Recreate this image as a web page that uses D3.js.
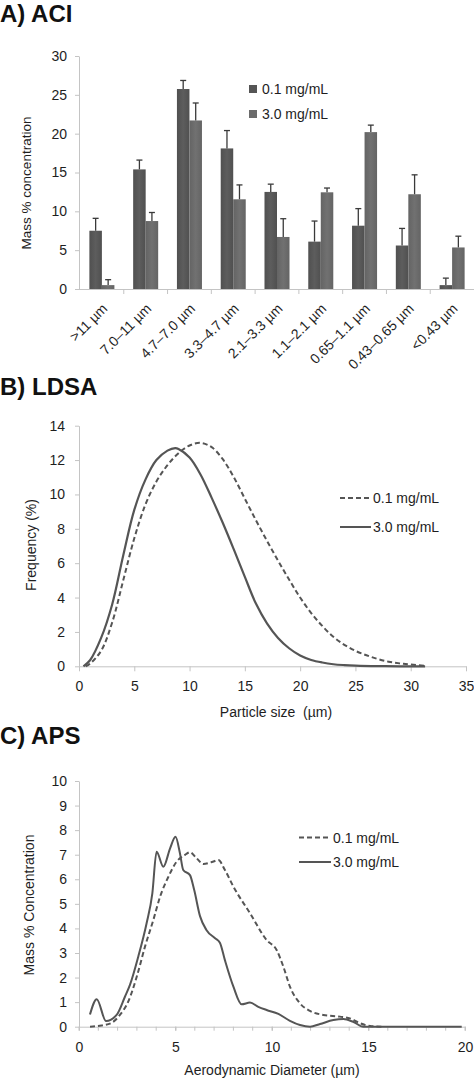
<!DOCTYPE html>
<html><head><meta charset="utf-8">
<script src="https://cdn.jsdelivr.net/npm/d3@7"></script>
<style>
body{margin:0;background:#fff;overflow:hidden;}
svg{display:block;font-family:"Liberation Sans",Arial,sans-serif;}
</style></head><body>
<svg id="c" width="474" height="1078"></svg>
<script>
// ---------- Panel A data ----------
const aciCategories = [">11 µm","7.0–11 µm","4.7–7.0 µm","3.3–4.7 µm","2.1–3.3 µm","1.1–2.1 µm","0.65–1.1 µm","0.43–0.65 µm","<0.43 µm"];
const seriesNames = ["0.1 mg/mL","3.0 mg/mL"];
const aciLow = [7.5,15.4,25.75,18.1,12.5,6.1,8.15,5.6,0.5];
const aciLowErr = [1.6,1.2,1.1,2.3,1.0,2.65,2.2,2.2,0.9];
const aciHigh = [0.5,8.75,21.7,11.55,6.7,12.45,20.2,12.2,5.35];
const aciHighErr = [0.7,1.1,2.25,1.85,2.35,0.55,0.9,2.5,1.45];
const aciYTicks = [0,5,10,15,20,25,30];

// ---------- Panel B data ----------
const ldsaLowX = [0.6,1,2,3,4,5,6,7,8,9,10,11,12,13,14,15,16,17,18,19,20,21,22,23,24,25,26,27,28,29,30,31.3];
const ldsaLowY = [0,0.15,0.9,2.55,5.0,7.45,9.4,10.75,11.7,12.4,12.85,13.0,12.75,12.05,11.0,9.75,8.5,7.3,6.15,5.05,4.0,3.1,2.35,1.72,1.25,0.9,0.64,0.43,0.27,0.17,0.1,0.03];
const ldsaHighX = [0.4,1,2,3,4,5,6,7,8,8.7,9,10,11,12,13,14,15,16,17,18,19,20,21,22,23,24,25,27,29,31.3];
const ldsaHighY = [0,0.35,1.65,3.6,6.45,9.1,10.85,12.0,12.55,12.7,12.65,12.15,11.15,9.8,8.35,6.8,5.2,3.65,2.5,1.65,1.05,0.63,0.37,0.22,0.12,0.07,0.04,0.01,0,0];
const ldsaXTicks = [0,5,10,15,20,25,30,35];
const ldsaYTicks = [0,2,4,6,8,10,12,14];

// ---------- Panel C data ----------
const apsLowX = [0.57,1.17,1.7,2.12,2.55,2.99,3.42,3.85,4.2,4.63,5.06,5.49,5.75,6.1,6.44,6.88,7.22,7.56,8.0,8.86,9.72,10.24,10.59,10.93,11.45,11.97,12.66,13.52,14.04,14.56,15.08,15.8];
const apsLowY = [0,0.05,0.16,0.48,1.02,2.03,3.26,4.34,5.29,6.1,6.72,6.99,7.1,6.85,6.62,6.7,6.78,6.38,5.7,4.62,3.53,3.12,2.44,1.63,0.95,0.64,0.48,0.41,0.34,0.14,0.03,0];
const apsHighX = [0.57,0.92,1.4,1.95,2.38,2.64,3.07,3.5,3.8,4.02,4.37,4.72,5.0,5.23,5.4,5.75,5.97,6.27,6.6,7.05,7.3,7.56,8.0,8.43,8.86,9.29,9.72,10.33,10.93,11.45,11.97,12.49,13.18,13.7,14.2,14.73,15.5,17,19.83];
const apsHighY = [0.5,1.12,0.23,0.48,1.22,1.7,2.85,4.2,5.43,7.12,6.51,7.26,7.73,7.06,6.38,6.17,5.56,4.5,3.94,3.6,3.42,2.71,1.63,0.91,0.98,0.81,0.68,0.52,0.24,0.07,0,0.11,0.27,0.31,0.2,0,0,0,0];
const apsXTicks = [0,5,10,15,20];
const apsXMinor = d3.range(0,21,1);
const apsYTicks = [0,1,2,3,4,5,6,7,8,9,10];

const svg = d3.select("#c");
const AX = "#c4c4c4", TXT = "#1e1e1e", LINE = "#555";
const FONT = 13.5;

function title(t, x, y){
  svg.append("text").attr("x",x).attr("y",y).attr("font-size",24).attr("font-weight","bold")
    .attr("fill","#111").text(t);
}
function styleAxis(g){
  g.selectAll("path.domain").attr("stroke",AX).attr("stroke-width",1);
  g.selectAll(".tick line").attr("stroke",AX).attr("stroke-width",1);
  g.selectAll(".tick text").attr("fill",TXT).attr("font-size",FONT).attr("font-family","Liberation Sans, Arial, sans-serif");
}

// ================= Panel A =================
title("A) ACI", 0, 22);
const xA = d3.scaleBand().domain(aciCategories).range([80,474]).padding(0);
const xA1 = d3.scaleBand().domain(seriesNames).range([0,xA.bandwidth()]).paddingInner(0).paddingOuter(0.75);
const yA = d3.scaleLinear().domain([0,30]).range([289,56]);

const defs = svg.append("defs");
function grad(id, c1, c2){
  const g = defs.append("linearGradient").attr("id",id).attr("x1","0").attr("x2","1").attr("y1","0").attr("y2","0");
  g.append("stop").attr("offset","0").attr("stop-color",c1);
  g.append("stop").attr("offset","0.5").attr("stop-color",c2);
  g.append("stop").attr("offset","1").attr("stop-color",c1);
}
grad("gLow","#505050","#5d5d5d");
grad("gHigh","#646464","#717171");

const gyA = svg.append("g").attr("transform","translate(79,0)")
  .call(d3.axisLeft(yA).tickValues(aciYTicks).tickSize(4).tickSizeOuter(0).tickPadding(8));
styleAxis(gyA);
gyA.selectAll(".tick text").attr("font-size",14);
svg.append("line").attr("x1",79).attr("x2",474).attr("y1",yA(0)+0.5).attr("y2",yA(0)+0.5).attr("stroke",AX);
svg.append("g").selectAll("line").data(aciCategories.slice(1)).join("line")
  .attr("x1",d=>xA(d)).attr("x2",d=>xA(d)).attr("y1",yA(0)).attr("y2",yA(0)+5).attr("stroke",AX);

const series = [
  {name:seriesNames[0], vals:aciLow, errs:aciLowErr, fill:"url(#gLow)", legend:"#555"},
  {name:seriesNames[1], vals:aciHigh, errs:aciHighErr, fill:"url(#gHigh)", legend:"#6b6b6b"}
];
series.forEach(s=>{
  const g = svg.append("g");
  g.selectAll("rect").data(aciCategories).join("rect")
    .attr("x",(d)=>xA(d)+xA1(s.name)).attr("width",xA1.bandwidth())
    .attr("y",(d,i)=>yA(s.vals[i])).attr("height",(d,i)=>yA(0)-yA(s.vals[i]))
    .attr("fill",s.fill);
  const cx = d=>xA(d)+xA1(s.name)+xA1.bandwidth()/2;
  g.selectAll("line.e").data(aciCategories).join("line").attr("class","e")
    .attr("x1",cx).attr("x2",cx).attr("y1",(d,i)=>yA(s.vals[i])).attr("y2",(d,i)=>yA(s.vals[i]+s.errs[i]))
    .attr("stroke","#3a3a3a").attr("stroke-width",1.3);
  g.selectAll("line.c").data(aciCategories).join("line").attr("class","c")
    .attr("x1",d=>cx(d)-3).attr("x2",d=>cx(d)+3).attr("y1",(d,i)=>yA(s.vals[i]+s.errs[i])).attr("y2",(d,i)=>yA(s.vals[i]+s.errs[i]))
    .attr("stroke","#3a3a3a").attr("stroke-width",1.3);
});
svg.append("g").selectAll("text").data(aciCategories).join("text")
  .attr("transform",d=>`translate(${xA(d)+xA.bandwidth()/2+3},${yA(0)+17}) rotate(-45)`)
  .attr("text-anchor","end").attr("dy","0.35em").attr("font-size",14).attr("fill",TXT).text(d=>d);
svg.append("text").attr("transform","translate(31,183) rotate(-90)").attr("text-anchor","middle")
  .attr("font-size",13.5).attr("fill",TXT).text("Mass % concentration");
series.forEach((s,i)=>{
  const yy = 89 + i*25;
  svg.append("rect").attr("x",249).attr("y",yy-4).attr("width",8).attr("height",8).attr("fill",s.legend);
  svg.append("text").attr("x",262).attr("y",yy+5).attr("font-size",14).attr("fill",TXT).text(s.name);
});

// ================= Panel B =================
title("B) LDSA", 0, 395);
const xB = d3.scaleLinear().domain([0,35]).range([79,466]);
const yB = d3.scaleLinear().domain([0,14]).range([666.3,425.7]);
const gxB = svg.append("g").attr("transform",`translate(0,${yB(0)})`)
  .call(d3.axisBottom(xB).tickValues(ldsaXTicks).tickSize(5).tickSizeOuter(0).tickPadding(10));
styleAxis(gxB);
gxB.selectAll(".tick text").attr("font-size",14);
const gyB = svg.append("g").attr("transform",`translate(${xB(0)},0)`)
  .call(d3.axisLeft(yB).tickValues(ldsaYTicks).tickSize(4).tickSizeOuter(0).tickPadding(10));
styleAxis(gyB);
gyB.selectAll(".tick text").attr("font-size",14);
const lineB = d3.line().curve(d3.curveCatmullRom.alpha(0.5));
svg.append("path").attr("d",lineB(ldsaLowX.map((x,i)=>[xB(x),yB(ldsaLowY[i])])))
  .attr("fill","none").attr("stroke",LINE).attr("stroke-width",2).attr("stroke-dasharray","5,3");
svg.append("path").attr("d",lineB(ldsaHighX.map((x,i)=>[xB(x),yB(ldsaHighY[i])])))
  .attr("fill","none").attr("stroke",LINE).attr("stroke-width",2.2);
svg.append("text").attr("transform","translate(36,545) rotate(-90)").attr("text-anchor","middle")
  .attr("font-size",14).attr("fill",TXT).text("Frequency (%)");
svg.append("text").attr("x",276).attr("y",717).attr("text-anchor","middle")
  .attr("font-size",14).attr("fill",TXT).text("Particle size  (µm)").attr("xml:space","preserve");
[[498,"5,3",seriesNames[0]],[527,null,seriesNames[1]]].forEach(([yy,dash,name])=>{
  const l = svg.append("line").attr("x1",340).attr("x2",371).attr("y1",yy).attr("y2",yy)
    .attr("stroke",LINE).attr("stroke-width",2);
  if(dash) l.attr("stroke-dasharray",dash);
  svg.append("text").attr("x",373).attr("y",yy+5).attr("font-size",14).attr("fill",TXT).text(name);
});

// ================= Panel C =================
title("C) APS", 0, 744);
const xC = d3.scaleLinear().domain([0,20]).range([79,465]);
const yC = d3.scaleLinear().domain([0,10]).range([1026.7,781]);
const gxC = svg.append("g").attr("transform",`translate(0,${yC(0)})`)
  .call(d3.axisBottom(xC).tickValues(apsXTicks).tickSize(4).tickSizeOuter(0).tickPadding(11));
styleAxis(gxC);
gxC.selectAll(".tick text").attr("font-size",14);
svg.append("g").selectAll("line").data(apsXMinor).join("line")
  .attr("x1",d=>xC(d)).attr("x2",d=>xC(d)).attr("y1",yC(0)).attr("y2",yC(0)+4).attr("stroke",AX);
const gyC = svg.append("g").attr("transform",`translate(${xC(0)},0)`)
  .call(d3.axisLeft(yC).tickValues(apsYTicks).tickSize(4).tickSizeOuter(0).tickPadding(8));
styleAxis(gyC);
gyC.selectAll(".tick text").attr("font-size",14);
const lineC = d3.line().curve(d3.curveMonotoneX);
svg.append("path").attr("d",lineC(apsLowX.map((x,i)=>[xC(x),yC(apsLowY[i])])))
  .attr("fill","none").attr("stroke",LINE).attr("stroke-width",2).attr("stroke-dasharray","5,3");
svg.append("path").attr("d",lineC(apsHighX.map((x,i)=>[xC(x),yC(apsHighY[i])])))
  .attr("fill","none").attr("stroke",LINE).attr("stroke-width",2);
svg.append("text").attr("transform","translate(34,905) rotate(-90)").attr("text-anchor","middle")
  .attr("font-size",14).attr("fill",TXT).text("Mass % Concentration");
svg.append("text").attr("x",272).attr("y",1075).attr("text-anchor","middle")
  .attr("font-size",14).attr("fill",TXT).text("Aerodynamic Diameter (µm)");
[[837.5,"5,3",seriesNames[0]],[862,null,seriesNames[1]]].forEach(([yy,dash,name])=>{
  const l = svg.append("line").attr("x1",299).attr("x2",331).attr("y1",yy).attr("y2",yy)
    .attr("stroke",LINE).attr("stroke-width",2);
  if(dash) l.attr("stroke-dasharray",dash);
  svg.append("text").attr("x",333).attr("y",yy+5).attr("font-size",14).attr("fill",TXT).text(name);
});
</script></body></html>
